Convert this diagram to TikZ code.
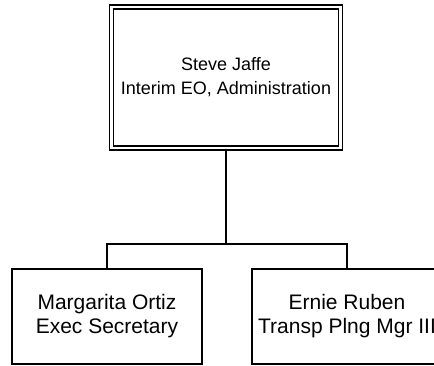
\documentclass[tikz,border=0pt]{standalone}
\usepackage{fontspec}
\setmainfont{Liberation Sans}

\begin{document}
\begin{tikzpicture}[x=1pt, y=-1pt,
	box/.style = {draw, line width=1.5pt, align=center, inner sep=0pt,
		minimum width=190pt, minimum height=95pt,
		font=\fontsize{21}{24}\selectfont},
	topbox/.style = {box, double, double distance=2.5pt, line width=1.4pt,
		minimum width=229pt, minimum height=141pt,
		font=\fontsize{18}{24}\selectfont}]
	\useasboundingbox (0,0) rectangle (434,366);
	\node[topbox] (ceo) at (226,77.5) {Steve Jaffe\\Interim EO, Administration};
	\node[box] (sec) at (107,316.5) {Margarita Ortiz\\Exec Secretary};
	\node[box] (mgr) at (347,316.5) {Ernie Ruben\\Transp Plng Mgr III};
	\coordinate (bus) at (226,244);
	\draw[line width=1.6pt] (ceo) -- (bus);
	\draw[line width=1.5pt] (sec.north) |- (bus) -| (mgr.north);
\end{tikzpicture}
\end{document}
